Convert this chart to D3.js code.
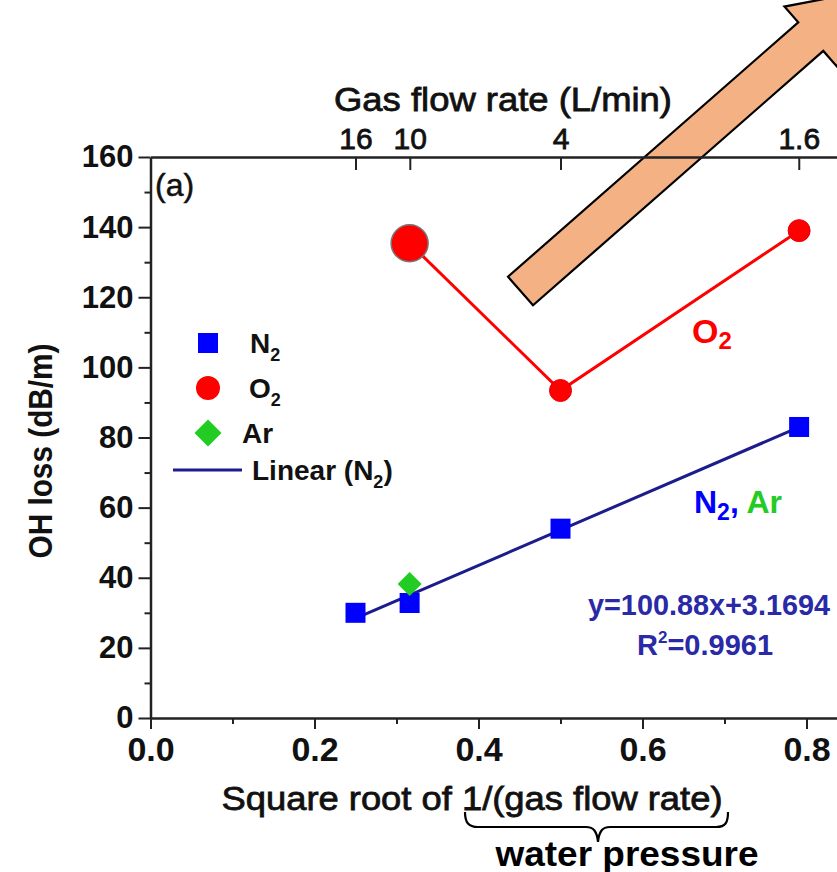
<!DOCTYPE html>
<html>
<head>
<meta charset="utf-8">
<script src="https://cdn.jsdelivr.net/npm/d3@7"></script>
<style>
  html, body { margin: 0; padding: 0; background: #fff; }
  svg { display: block; font-family: "Liberation Sans", Arial, sans-serif; }
</style>
</head>
<body>
<svg id="chart" width="837" height="872"></svg>
<script>
// ---------- data ----------
const xTickValues = [0.0, 0.2, 0.4, 0.6, 0.8];
const xMinorTicks = [0.1, 0.3, 0.5, 0.7];
const yTickValues = [0, 20, 40, 60, 80, 100, 120, 140, 160];
const yMinorTicks = [10, 30, 50, 70, 90, 110, 130, 150];
const flowRates = [16, 10, 4, 1.6];
const flowLabels = ["16", "10", "4", "1.6"];

const n2X = [0.25, 0.316, 0.5, 0.791];
const n2Y = [30, 32.8, 54, 83];
const o2X = [0.316, 0.5, 0.791];
const o2Y = [135.4, 93.4, 139];
const arX = [0.316];
const arY = [38.2];
const fitSlope = 100.88, fitIntercept = 3.1694;
const fitRange = [0.25, 0.791];

// ---------- layout ----------
const svg = d3.select("#chart");
const x = d3.scaleLinear().domain([0, 0.85]).range([150.5, 150.5 + 0.85 * 820]);
const y = d3.scaleLinear().domain([0, 160]).range([718, 157]);
const axisColor = "#222";

// ---------- arrow (annotation) ----------
(function () {
  const T = [520.5, 291];
  const u = [0.752, -0.659], n = [0.659, 0.752];
  const w = 19, L = 386, hw = 40, hl = 68;
  const p = (a, b) => [T[0] + u[0] * a + n[0] * b, T[1] + u[1] * a + n[1] * b];
  const pts = [p(0, -w), p(L, -w), p(L, -hw), p(L + hl, 0), p(L, hw), p(L, w), p(0, w)];
  svg.append("polygon").attr("points", pts.map(d => d.join(",")).join(" "))
    .attr("fill", "#f4b183").attr("stroke", "#000").attr("stroke-width", 2.2)
    .attr("stroke-linejoin", "miter");
})();

// ---------- axes ----------
function styleAxis(g) {
  g.selectAll("path.domain").attr("stroke", axisColor).attr("stroke-width", 2.5);
  g.selectAll(".tick line").attr("stroke", axisColor).attr("stroke-width", 2);
  g.selectAll(".tick text").attr("fill", "#111");
}

// bottom major
const gx = svg.append("g").attr("transform", `translate(0,${y(0)})`)
  .call(d3.axisBottom(x).tickValues(xTickValues).tickFormat(d3.format(".1f")).tickSize(11).tickSizeOuter(0).tickPadding(8));
styleAxis(gx);
gx.selectAll(".tick text").attr("font-size", 34).attr("font-weight", "bold").attr("font-family", "Liberation Sans, Arial, sans-serif");
// bottom minor
const gxm = svg.append("g").attr("transform", `translate(0,${y(0)})`)
  .call(d3.axisBottom(x).tickValues(xMinorTicks).tickFormat("").tickSize(6).tickSizeOuter(0));
styleAxis(gxm); gxm.select("path.domain").remove();

// left major
const gy = svg.append("g").attr("transform", `translate(${x(0)},0)`)
  .call(d3.axisLeft(y).tickValues(yTickValues).tickSize(12).tickSizeOuter(0).tickPadding(5));
styleAxis(gy);
gy.selectAll(".tick text").attr("font-size", 31).attr("font-weight", "bold").attr("font-family", "Liberation Sans, Arial, sans-serif");
// left minor
const gym = svg.append("g").attr("transform", `translate(${x(0)},0)`)
  .call(d3.axisLeft(y).tickValues(yMinorTicks).tickFormat("").tickSize(6).tickSizeOuter(0));
styleAxis(gym); gym.select("path.domain").remove();

// top axis (gas flow rate)
const gt = svg.append("g").attr("transform", `translate(0,${y(160)})`)
  .call(d3.axisTop(x).tickValues(flowRates.map(f => 1 / Math.sqrt(f)))
    .tickFormat((d, i) => flowLabels[i]).tickSize(-13).tickSizeOuter(0).tickPadding(8));
styleAxis(gt);
gt.selectAll(".tick text").attr("font-size", 30).attr("font-family", "Liberation Sans, Arial, sans-serif")
  .attr("stroke", "#111").attr("stroke-width", 0.8);

// ---------- titles ----------
svg.append("text").attr("x", 503).attr("y", 111).attr("text-anchor", "middle")
  .attr("font-size", 34).attr("fill", "#111").attr("stroke", "#111").attr("stroke-width", 0.8)
  .attr("textLength", 338).attr("lengthAdjust", "spacingAndGlyphs")
  .text("Gas flow rate (L/min)");

svg.append("text").attr("x", 472).attr("y", 810).attr("text-anchor", "middle")
  .attr("font-size", 34).attr("fill", "#111").attr("stroke", "#111").attr("stroke-width", 0.8)
  .attr("textLength", 501).attr("lengthAdjust", "spacingAndGlyphs")
  .text("Square root of 1/(gas flow rate)");

svg.append("text").attr("transform", "translate(52,451) rotate(-90)").attr("text-anchor", "middle")
  .attr("font-size", 33).attr("font-weight", "bold").attr("fill", "#111")
  .attr("textLength", 215).attr("lengthAdjust", "spacingAndGlyphs")
  .text("OH loss (dB/m)");

svg.append("text").attr("x", 155).attr("y", 196)
  .attr("font-size", 32).attr("fill", "#111").attr("stroke", "#111").attr("stroke-width", 0.5)
  .text("(a)");

// brace + water pressure
svg.append("path")
  .attr("d", "M465,812 C465,822 468,827 478,827 L586,827 C594,827 597,832 598,842 C599,832 602,827 610,827 L716,827 C726,827 728,822 728,812")
  .attr("fill", "none").attr("stroke", "#000").attr("stroke-width", 2.2);
svg.append("text").attr("x", 627).attr("y", 866).attr("text-anchor", "middle")
  .attr("font-size", 35).attr("font-weight", "bold").attr("fill", "#000")
  .attr("textLength", 263).attr("lengthAdjust", "spacingAndGlyphs")
  .text("water pressure");

// ---------- data marks ----------
const red = "#ff0000", blue = "#0000ff", green = "#22cc22", navy = "#1c1c8c";

// O2 line
const o2 = o2X.map((d, i) => ({ x: d, y: o2Y[i] }));
svg.append("path").datum(o2)
  .attr("d", d3.line().x(d => x(d.x)).y(d => y(d.y)))
  .attr("fill", "none").attr("stroke", red).attr("stroke-width", 3);

// linear fit N2
const fit = fitRange.map(v => ({ x: v, y: fitSlope * v + fitIntercept }));
svg.append("path").datum(fit)
  .attr("d", d3.line().x(d => x(d.x)).y(d => y(d.y)))
  .attr("fill", "none").attr("stroke", navy).attr("stroke-width", 3);

// N2 squares
const n2 = n2X.map((d, i) => ({ x: d, y: n2Y[i] }));
svg.selectAll("rect.n2").data(n2).enter().append("rect").attr("class", "n2")
  .attr("x", d => x(d.x) - 10).attr("y", d => y(d.y) - 10)
  .attr("width", 20).attr("height", 20).attr("fill", blue);

// O2 circles
svg.selectAll("circle.o2").data(o2).enter().append("circle").attr("class", "o2")
  .attr("cx", d => x(d.x)).attr("cy", d => y(d.y))
  .attr("r", (d, i) => i === 0 ? 18.5 : 11)
  .attr("fill", red)
  .attr("stroke", (d, i) => i === 0 ? "#777" : "#e00010")
  .attr("stroke-width", (d, i) => i === 0 ? 1.5 : 1);

// Ar diamond
const ar = arX.map((d, i) => ({ x: d, y: arY[i] }));
svg.selectAll("path.ar").data(ar).enter().append("path").attr("class", "ar")
  .attr("transform", d => `translate(${x(d.x)},${y(d.y)})`)
  .attr("d", "M0,-12 L12,0 L0,12 L-12,0 Z").attr("fill", green);

// ---------- in-plot labels ----------
const o2Lab = svg.append("text").attr("x", 692).attr("y", 343)
  .attr("font-size", 34).attr("font-weight", "bold").attr("fill", red);
o2Lab.append("tspan").text("O");
o2Lab.append("tspan").attr("font-size", 24).attr("dy", 6).text("2");

const nLab = svg.append("text").attr("x", 694).attr("y", 513)
  .attr("font-size", 32).attr("font-weight", "bold").attr("fill", blue);
nLab.append("tspan").text("N");
nLab.append("tspan").attr("font-size", 23).attr("dy", 7).text("2");
nLab.append("tspan").attr("dy", -7).text(", ");
nLab.append("tspan").attr("fill", green).text("Ar");

const eqColor = "#2a2aa6";
svg.append("text").attr("x", 709).attr("y", 615).attr("text-anchor", "middle")
  .attr("font-size", 29).attr("font-weight", "bold").attr("fill", eqColor)
  .attr("textLength", 242).attr("lengthAdjust", "spacingAndGlyphs")
  .text("y=100.88x+3.1694");
const r2 = svg.append("text").attr("x", 705).attr("y", 655).attr("text-anchor", "middle")
  .attr("font-size", 29).attr("font-weight", "bold").attr("fill", eqColor);
r2.append("tspan").text("R");
r2.append("tspan").attr("font-size", 17).attr("dy", -12).text("2");
r2.append("tspan").attr("dy", 12).text("=0.9961");

// ---------- legend ----------
const legend = svg.append("g");
legend.append("rect").attr("x", 198).attr("y", 333).attr("width", 20).attr("height", 20).attr("fill", blue);
legend.append("circle").attr("cx", 208).attr("cy", 388).attr("r", 12).attr("fill", red);
legend.append("path").attr("transform", "translate(208,433)").attr("d", "M0,-13.5 L13.5,0 L0,13.5 L-13.5,0 Z").attr("fill", green);
legend.append("line").attr("x1", 173).attr("x2", 242).attr("y1", 470).attr("y2", 470).attr("stroke", navy).attr("stroke-width", 3);

function legText(xp, yp, main, sub, tail) {
  const t = legend.append("text").attr("x", xp).attr("y", yp)
    .attr("font-size", 28).attr("font-weight", "bold").attr("fill", "#111");
  t.append("tspan").text(main);
  if (sub) {
    t.append("tspan").attr("font-size", 18).attr("dy", 8).text(sub);
    if (tail) t.append("tspan").attr("dy", -8).text(tail);
  }
}
legText(250, 353, "N", "2");
legText(249, 398, "O", "2");
legText(242, 443, "Ar");
legText(252, 480, "Linear (N", "2", ")");
</script>
</body>
</html>
